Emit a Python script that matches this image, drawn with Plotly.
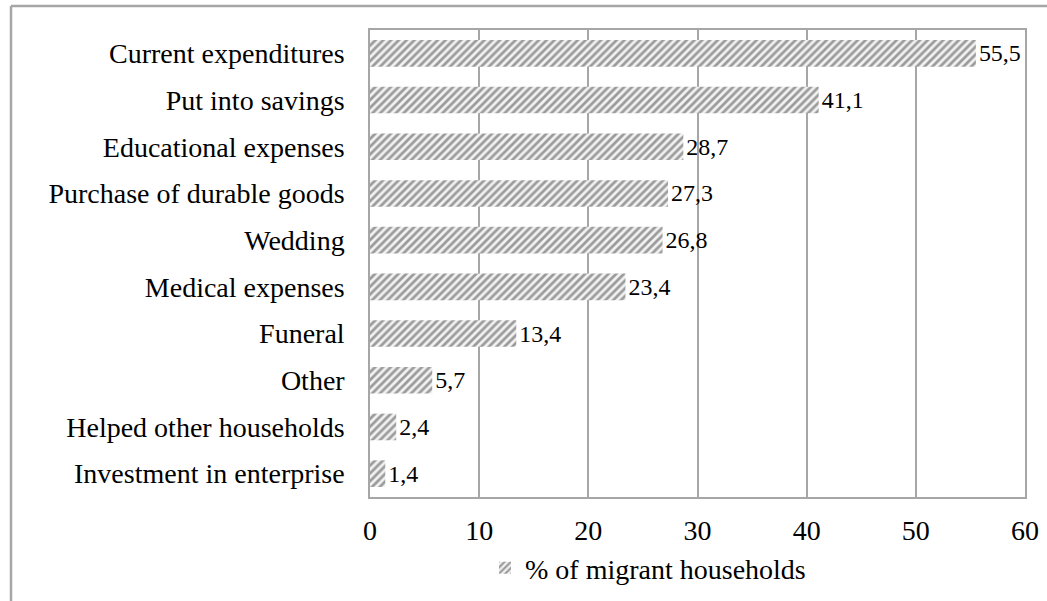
import plotly.graph_objects as go

# Uses of remittances, share of migrant households (%)
categories = [
    "Current expenditures",
    "Put into savings",
    "Educational expenses",
    "Purchase of durable goods",
    "Wedding",
    "Medical expenses",
    "Funeral",
    "Other",
    "Helped other households",
    "Investment in enterprise",
]
values = [55.5, 41.1, 28.7, 27.3, 26.8, 23.4, 13.4, 5.7, 2.4, 1.4]
series_name = "% of migrant households"
x_ticks = [0, 10, 20, 30, 40, 50, 60]

FONT = "Liberation Serif"
GRID = "#a6a6a6"

labels = [f"{v:.1f}".replace(".", ",") for v in values]

fig = go.Figure(
    go.Bar(
        y=categories,
        x=values,
        orientation="h",
        name=series_name,
        text=labels,
        textposition="outside",
        cliponaxis=False,
        textfont=dict(family=FONT, size=27, color="black"),
        marker=dict(
            color="white",
            line=dict(width=0),
            pattern=dict(shape="/", fgcolor="#444444", bgcolor="#f2f2f2",
                         size=5.5, solidity=0.5),
        ),
        showlegend=True,
    )
)

W, H = 1047, 601
L, R, T, B = 370, 22, 30, 104
pw, ph = W - L - R, H - T - B

def px_x(p):
    return (p - L) / pw

def px_y(p):
    return (H - B - p) / ph

# outer chart frame (left and top edges)
fig.add_shape(type="line", xref="paper", yref="paper",
              x0=px_x(11), x1=px_x(W + 5), y0=px_y(6), y1=px_y(6),
              line=dict(color=GRID, width=2.5))
fig.add_shape(type="line", xref="paper", yref="paper",
              x0=px_x(11), x1=px_x(11), y0=px_y(6), y1=px_y(H + 5),
              line=dict(color=GRID, width=2.5))

fig.update_layout(
    width=W,
    height=H,
    margin=dict(l=L, r=R, t=T, b=B, autoexpand=False),
    paper_bgcolor="white",
    plot_bgcolor="white",
    bargap=0.43,
    font=dict(family=FONT, size=28, color="black"),
    xaxis=dict(
        range=[0, 60],
        tickvals=x_ticks,
        showgrid=True,
        gridcolor=GRID,
        gridwidth=1.5,
        zeroline=False,
        showline=True,
        linecolor=GRID,
        linewidth=1.5,
        mirror=True,
        ticks="",
        ticklabelstandoff=8,
        tickfont=dict(family=FONT, size=28, color="black"),
    ),
    yaxis=dict(
        autorange="reversed",
        showgrid=False,
        showline=True,
        linecolor=GRID,
        linewidth=1.5,
        mirror=True,
        ticks="",
        ticklabelstandoff=18,
        tickfont=dict(family=FONT, size=28, color="black"),
    ),
    legend=dict(
        orientation="h",
        x=px_x(485),
        xanchor="left",
        y=px_y(568),
        yanchor="middle",
        font=dict(family=FONT, size=28, color="black"),
        bgcolor="rgba(0,0,0,0)",
        itemwidth=30,
    ),
)

fig.write_html("out.html")
